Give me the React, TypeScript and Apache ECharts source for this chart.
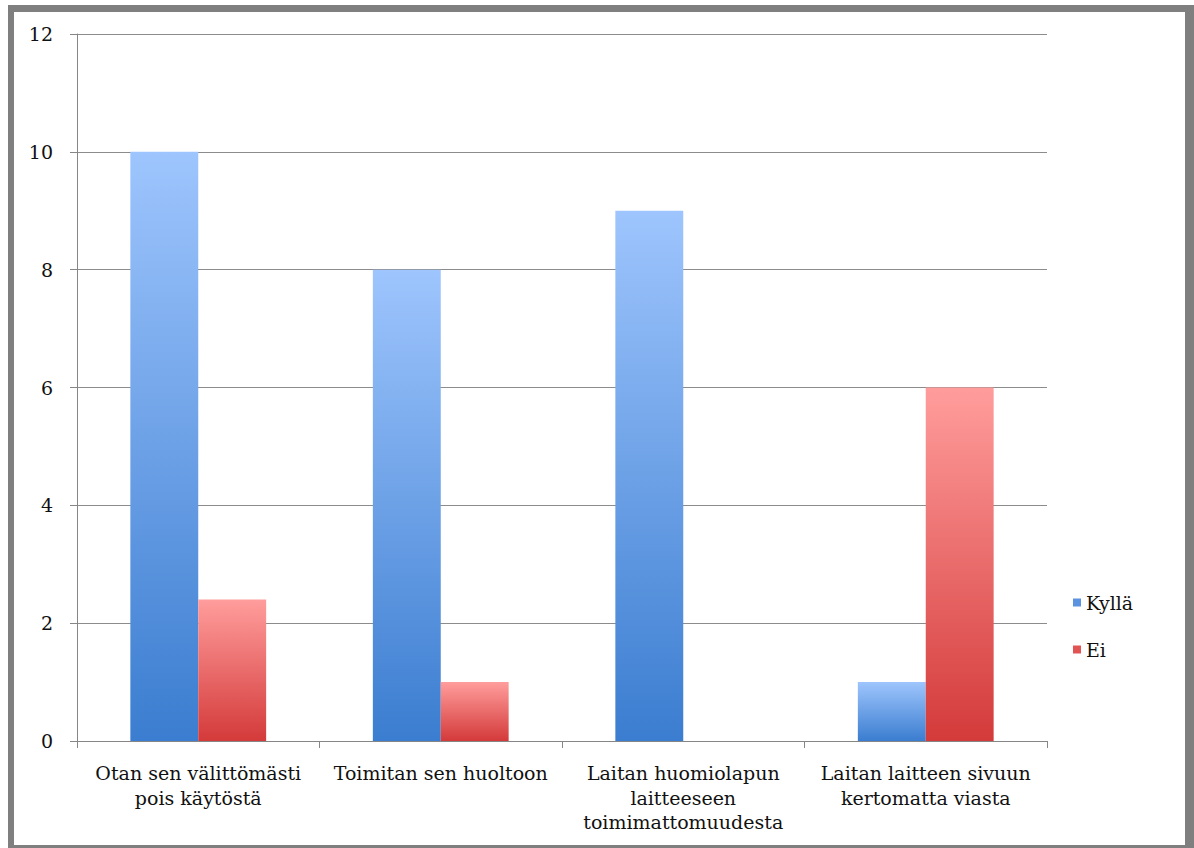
import React, { useEffect, useRef } from "react";
import * as echarts from "echarts";

const categories = [
  "Otan sen välittömästi\npois käytöstä",
  "Toimitan sen huoltoon",
  "Laitan huomiolapun\nlaitteeseen\ntoimimattomuudesta",
  "Laitan laitteen sivuun\nkertomatta viasta",
];
const seriesNames = ["Kyllä", "Ei"];
const kyllaValues = [10, 8, 9, 1];
const eiValues = [2.4, 1, 0, 6];
const yTicks = { min: 0, max: 12, interval: 2 };

const FONT = "'DejaVu Serif', serif";

function grad(top: string, bottom: string) {
  return new echarts.graphic.LinearGradient(0, 0, 0, 1, [
    { offset: 0, color: top },
    { offset: 1, color: bottom },
  ]);
}

export default function App() {
  const ref = useRef<HTMLDivElement>(null);
  useEffect(() => {
    if (!ref.current) return;
    const chart = echarts.init(ref.current, undefined, { renderer: "svg" });
    const borderColor = "#7f7f7f";
    chart.setOption({
      animation: false,
      backgroundColor: "#ffffff",
      grid: { left: 77, right: 147, top: 34, bottom: 107, containLabel: false },
      legend: {
        orient: "vertical",
        left: 1068,
        top: 588,
        itemWidth: 8,
        itemHeight: 8,
        itemGap: 28,
        icon: "rect",
        textStyle: { fontFamily: FONT, fontSize: 19, color: "#111" },
        data: [
          { name: seriesNames[0], itemStyle: { color: "#5b93e0" } },
          { name: seriesNames[1], itemStyle: { color: "#e25454" } },
        ],
      },
      xAxis: {
        type: "category",
        data: categories,
        axisLine: { show: true, lineStyle: { color: "#868686", width: 1 } },
        axisTick: { show: true, length: 7, lineStyle: { color: "#868686" } },
        axisLabel: {
          interval: 0,
          margin: 20,
          fontFamily: FONT,
          fontSize: 19,
          lineHeight: 24.5,
          color: "#111",
        },
      },
      yAxis: {
        type: "value",
        min: yTicks.min,
        max: yTicks.max,
        interval: yTicks.interval,
        axisLine: { show: true, lineStyle: { color: "#868686", width: 1 } },
        axisTick: { show: true, length: 7, lineStyle: { color: "#868686" } },
        splitLine: { show: true, lineStyle: { color: "#8c8c8c", width: 1 } },
        axisLabel: {
          margin: 24,
          fontFamily: FONT,
          fontSize: 19,
          color: "#111",
        },
      },
      series: [
        {
          name: seriesNames[0],
          type: "bar",
          data: kyllaValues,
          barGap: "0%",
          barCategoryGap: "44%",
          itemStyle: { color: grad("#9ec5fd", "#3b7dd0") },
        },
        {
          name: seriesNames[1],
          type: "bar",
          data: eiValues,
          barGap: "0%",
          barCategoryGap: "44%",
          itemStyle: { color: grad("#ff9d9c", "#d43a3a") },
        },
      ],
      graphic: [
        { type: "rect", shape: { x: 8, y: 5, width: 1186, height: 7 }, style: { fill: borderColor } },
        { type: "rect", shape: { x: 8, y: 5, width: 6, height: 843 }, style: { fill: borderColor } },
        { type: "rect", shape: { x: 1185, y: 5, width: 9, height: 843 }, style: { fill: borderColor } },
        { type: "rect", shape: { x: 8, y: 845, width: 1186, height: 3 }, style: { fill: borderColor } },
      ],
    });
    return () => chart.dispose();
  }, []);
  return (
    <div style={{ position: "fixed", left: 0, top: 0, width: 1194, height: 848, background: "#fff" }}>
      <div ref={ref} style={{ width: 1194, height: 848 }} />
    </div>
  );
}
